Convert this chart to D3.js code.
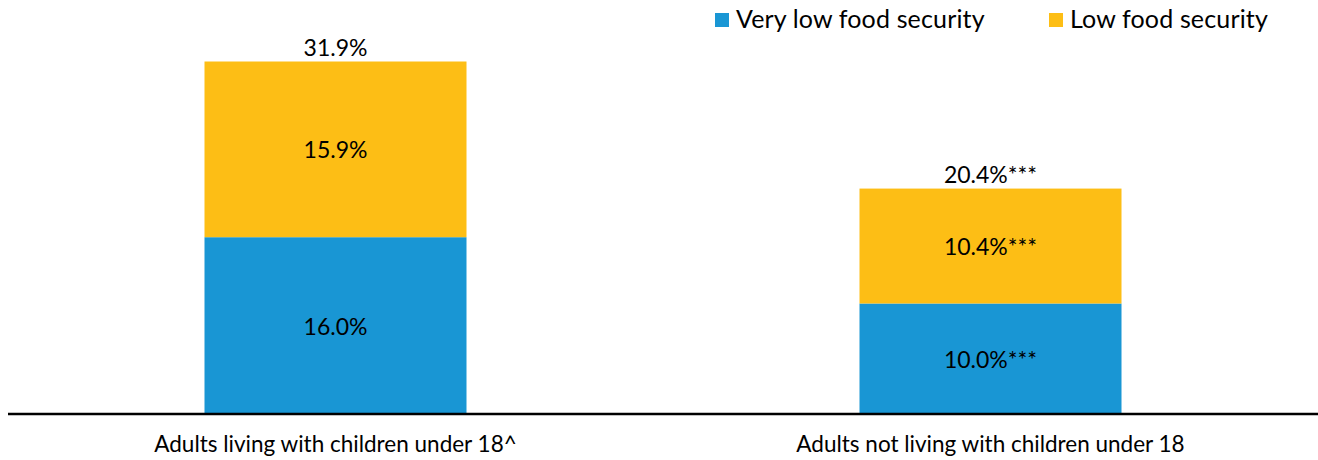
<!DOCTYPE html>
<html>
<head>
<meta charset="utf-8">
<script src="https://cdn.jsdelivr.net/npm/d3@7"></script>
<style>
  body { margin: 0; background: #fff; }
  svg { display: block; font-family: Lato, "Open Sans", sans-serif; }
</style>
</head>
<body>
<svg id="chart" width="1318" height="460"></svg>
<script>
// data
const categories = ["Adults living with children under 18^", "Adults not living with children under 18"];
const seriesNames = ["Very low food security", "Low food security"];
const veryLow = [16.0, 10.0];
const low = [15.9, 10.4];
const totals = [31.9, 20.4];
const veryLowMarks = ["", "***"];
const lowMarks = ["", "***"];
const totalMarks = ["", "***"];

const colors = ["#1996d4", "#fdbe15"];

const svg = d3.select("#chart");
const x = d3.scaleBand().domain(categories).range([8, 1318]).paddingInner(0.6).paddingOuter(0.3);
const y = d3.scaleLinear().domain([0, 35]).range([414, 414 - 35 * 11.05]);

const rows = categories.map((c, i) => ({ cat: c, v: [veryLow[i], low[i]], marks: [veryLowMarks[i], lowMarks[i]], total: totals[i], tmark: totalMarks[i] }));
const stack = d3.stack().keys([0, 1]).value((d, k) => d.v[k]);
const layers = stack(rows);

const g = svg.append("g");
layers.forEach((layer, k) => {
  g.selectAll(".s" + k).data(layer).enter().append("rect")
    .attr("x", d => x(d.data.cat))
    .attr("width", x.bandwidth())
    .attr("y", d => y(d[1]))
    .attr("height", d => y(d[0]) - y(d[1]))
    .attr("fill", colors[k]);
});

// segment labels
layers.forEach((layer, k) => {
  layer.forEach(d => {
    g.append("text")
      .attr("x", x(d.data.cat) + x.bandwidth() / 2)
      .attr("y", (y(d[0]) + y(d[1])) / 2 + 9)
      .attr("text-anchor", "middle")
      .attr("font-size", 23)
      .attr("fill", "#000")
      .text(d.data.v[k].toFixed(1) + "%" + d.data.marks[k]);
  });
});

// totals
rows.forEach(r => {
  g.append("text")
    .attr("x", x(r.cat) + x.bandwidth() / 2)
    .attr("y", y(r.total) - 6)
    .attr("text-anchor", "middle")
    .attr("font-size", 23)
    .attr("fill", "#000")
    .text(r.total.toFixed(1) + "%" + r.tmark);
});

// axis
const axis = svg.append("g").attr("transform", "translate(0,414)")
  .call(d3.axisBottom(x).tickSize(0).tickPadding(22));
axis.select(".domain").attr("d", "M8,0H1318").attr("stroke", "#000").attr("stroke-width", 2.5);
axis.selectAll("text").attr("font-family", "Lato, sans-serif").attr("font-size", 22.5).attr("fill", "#000");

// legend
const legendX = [715, 1049];
const leg = svg.append("g");
seriesNames.forEach((n, k) => {
  leg.append("rect").attr("x", legendX[k]).attr("y", 13).attr("width", 14).attr("height", 14).attr("fill", colors[k]);
  leg.append("text").attr("x", legendX[k] + 21).attr("y", 28).attr("font-size", 25)
    .attr("letter-spacing", 0.15).attr("fill", "#000").text(n);
});
</script>
</body>
</html>
